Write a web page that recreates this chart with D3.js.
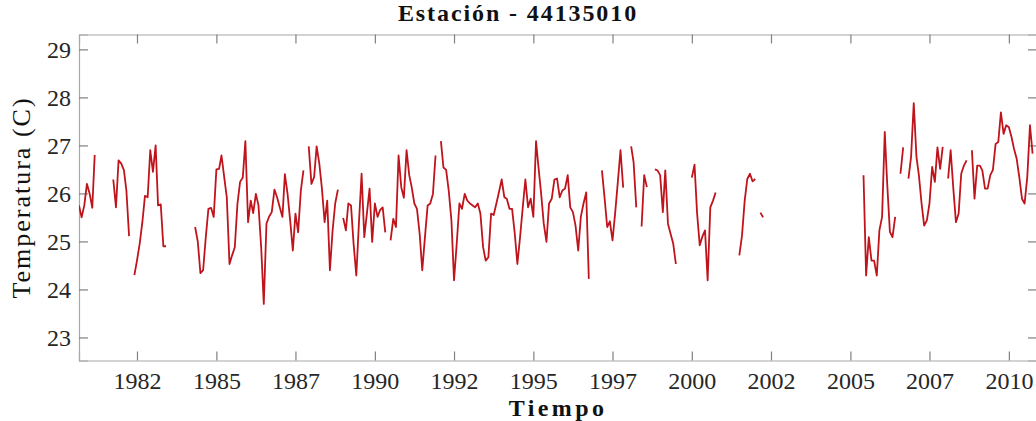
<!DOCTYPE html>
<html><head><meta charset="utf-8">
<script src="https://cdn.jsdelivr.net/npm/d3@7"></script>
<style>body{margin:0;background:#fff;} svg{display:block;}</style>
</head><body>
<svg id="chart" width="1036" height="421"></svg>
<script>
const title = "Estación - 44135010";
const xLabel = "Tiempo";
const yLabel = "Temperatura (C)";
const startMonth = "1980-09-01";
// monthly mean temperature (°C), null = missing month
const temperature = [
  25.75, 25.5, 25.75, 26.2, 26.0, 25.7, 26.8,
  null, null, null, null, null, null,
  26.29, 25.71, 26.69, 26.62, 26.48, 26.06, 25.11,
  null,
  24.3, 24.6, 24.95, 25.4, 25.95, 25.92, 26.9, 26.45, 27.0, 25.75, 25.77, 24.9, 24.9,
  null, null, null, null, null, null, null, null, null, null,
  25.30, 24.99, 24.34, 24.40, 25.09, 25.68, 25.70, 25.51, 26.50, 26.51, 26.79, 26.34, 25.92, 24.53,
  24.71, 24.88, 25.79, 26.24, 26.33, 27.09, 25.40, 25.85, 25.59, 25.99, 25.75, 24.88, 23.70, 25.37,
  25.52, 25.61, 26.08, 25.92, 25.71, 25.51, 26.40, 25.99, 25.44, 24.81, 25.58, 25.19, 26.06, 26.48,
  null,
  26.98, 26.2, 26.34, 26.98, 26.62, 26.1, 25.4, 25.85, 24.4, 25.23, 25.79, 26.08,
  null,
  25.49, 25.23, 25.79, 25.75, 24.95, 24.29, 25.37, 26.41, 25.09, 25.58, 26.10, 24.99, 25.79, 25.51,
  25.65, 25.71, 25.19,
  null,
  25.02, 25.47, 25.30, 26.79, 26.13, 25.91, 26.90, 26.38, 26.13, 25.79, 25.68, 25.16, 24.40, 25.09,
  25.75, 25.79, 25.99, 26.79,
  null,
  27.09, 26.54, 26.49, 26.06, 25.44, 24.19, 24.95, 25.79, 25.68, 25.99, 25.85, 25.79, 25.75, 25.71,
  25.79, 25.58, 24.88, 24.60, 24.67, 25.58, 25.55, 25.79, 26.03, 26.29, 25.92, 25.89, 25.68, 25.68,
  25.16, 24.53, 25.09, 25.71, 26.29, 25.71, 25.89, 25.51, 27.09, 26.55, 25.99, 25.37, 24.99, 25.79,
  25.89, 26.29, 26.31, 25.92, 26.06, 26.10, 26.38, 25.71, 25.61, 25.33, 24.81, 25.51, 25.79, 26.02,
  24.22,
  null, null, null, null,
  26.48, 25.9, 25.3, 25.42, 25.02, 25.6, 26.25, 26.9, 26.12,
  null, null,
  26.98, 26.65, 25.71,
  null,
  25.31, 26.38, 26.13,
  null, null,
  26.5, 26.48, 26.38, 25.61, 26.48, 25.37, 25.16, 24.95, 24.53,
  null, null, null, null, null,
  26.33, 26.6, 25.6, 24.92, 25.1, 25.23, 24.19, 25.71, 25.85, 26.02,
  null, null, null, null, null, null, null, null,
  24.71, 25.12, 25.85, 26.3, 26.41, 26.25, 26.3,
  null,
  25.6, 25.5,
  null, null, null, null, null, null, null, null, null, null, null, null,
  null, null, null, null, null, null, null, null, null, null, null, null,
  null, null, null, null, null, null, null, null, null, null, null, null,
  null,
  26.38, 24.29, 25.09, 24.6, 24.6, 24.29, 25.23, 25.51, 27.28, 26.2, 25.2, 25.09, 25.51,
  null,
  26.41, 26.96,
  null,
  26.31, 26.76, 27.88, 26.76, 26.38, 25.79, 25.33, 25.44, 25.79, 26.55, 26.24, 26.96, 26.51, 26.97,
  null,
  26.31, 26.90, 26.1, 25.40, 25.58, 26.41, 26.58, 26.69,
  null,
  26.90, 25.89, 26.58, 26.58, 26.48, 26.10, 26.10, 26.38, 26.49, 27.03, 27.07, 27.69, 27.24, 27.42,
  27.38, 27.17, 26.93, 26.72, 26.34, 25.89, 25.79, 26.34, 27.42, 26.83
];
const yTicks = [23, 24, 25, 26, 27, 28, 29];
const yDomain = [22.52, 29.31];
const xDomain = ["1980-09-01", "2010-11-21"];
const xTickDates = ["1982-07-01","1985-01-01","1987-07-01","1990-01-01","1992-07-01","1995-01-01",
  "1997-07-01","2000-01-01","2002-07-01","2005-01-01","2007-07-01","2010-01-01"];
const xTickLabels = ["1982","1985","1987","1990","1992","1995","1997","2000","2002","2005","2007","2010"];

const svg = d3.select("#chart");
const W = 1036, L = 79, R = 1037, T = 34.5, B = 360.5;
const parse = d3.utcParse("%Y-%m-%d");
const t0 = parse(startMonth);
const data = temperature.map((v, i) => ({ date: d3.utcMonth.offset(t0, i), v }));

const x = d3.scaleUtc().domain(xDomain.map(parse)).range([L, R]);
const y = d3.scaleLinear().domain(yDomain).range([B, T]);

const serif = "'Liberation Serif', 'DejaVu Serif', serif";
const axisColor = "#a8a8a8";
const tickLen = 9;

svg.append("rect").attr("x", 0).attr("y", 0).attr("width", W).attr("height", 421).attr("fill", "#fff");

svg.append("clipPath").attr("id", "clip").append("rect")
  .attr("x", L).attr("y", T).attr("width", R - L).attr("height", B - T);

const xb = svg.append("g").attr("transform", `translate(0,${B})`)
  .call(d3.axisBottom(x).tickValues(xTickDates.map(parse)).tickSize(-tickLen).tickPadding(11)
    .tickFormat((d, i) => xTickLabels[i]));
const xt = svg.append("g").attr("transform", `translate(0,${T})`)
  .call(d3.axisTop(x).tickValues(xTickDates.map(parse)).tickSize(-tickLen).tickFormat(""));
const yl = svg.append("g").attr("transform", `translate(${L},0)`)
  .call(d3.axisLeft(y).tickValues(yTicks).tickSize(-tickLen).tickPadding(8).tickFormat(d3.format("d")));
const yr = svg.append("g").attr("transform", `translate(${R},0)`)
  .call(d3.axisRight(y).tickValues(yTicks).tickSize(-tickLen).tickFormat(""));

[xb, xt, yl, yr].forEach(g => {
  g.select(".domain").attr("stroke", axisColor).attr("stroke-width", 1.2);
  g.selectAll(".tick line").attr("stroke", "#808080").attr("stroke-width", 1.2);
  g.selectAll(".tick text").attr("fill", "#262626").style("font-family", serif).style("font-size", "24px");
});

const line = d3.line().defined(d => d.v !== null).x(d => x(d.date)).y(d => y(d.v));
svg.append("path").datum(data).attr("clip-path", "url(#clip)")
  .attr("fill", "none").attr("stroke", "#bf141c").attr("stroke-width", 1.8)
  .attr("stroke-linejoin", "round").attr("d", line);

svg.append("text").attr("x", W / 2).attr("y", 21).attr("text-anchor", "middle")
  .style("font-family", serif).style("font-weight", "bold").style("font-size", "24px")
  .style("letter-spacing", "1.9px")
  .attr("fill", "#111").text(title);
svg.append("text").attr("x", (L + R) / 2).attr("y", 416).attr("text-anchor", "middle")
  .style("font-family", serif).style("font-weight", "bold").style("font-size", "24px")
  .style("letter-spacing", "3.4px")
  .attr("fill", "#111").text(xLabel);
svg.append("text").attr("transform", `translate(30,${(T + B) / 2}) rotate(-90)`).attr("text-anchor", "middle")
  .style("font-family", serif).style("font-size", "26px").style("letter-spacing", "2px")
  .attr("fill", "#111").text(yLabel);
</script>
</body></html>
